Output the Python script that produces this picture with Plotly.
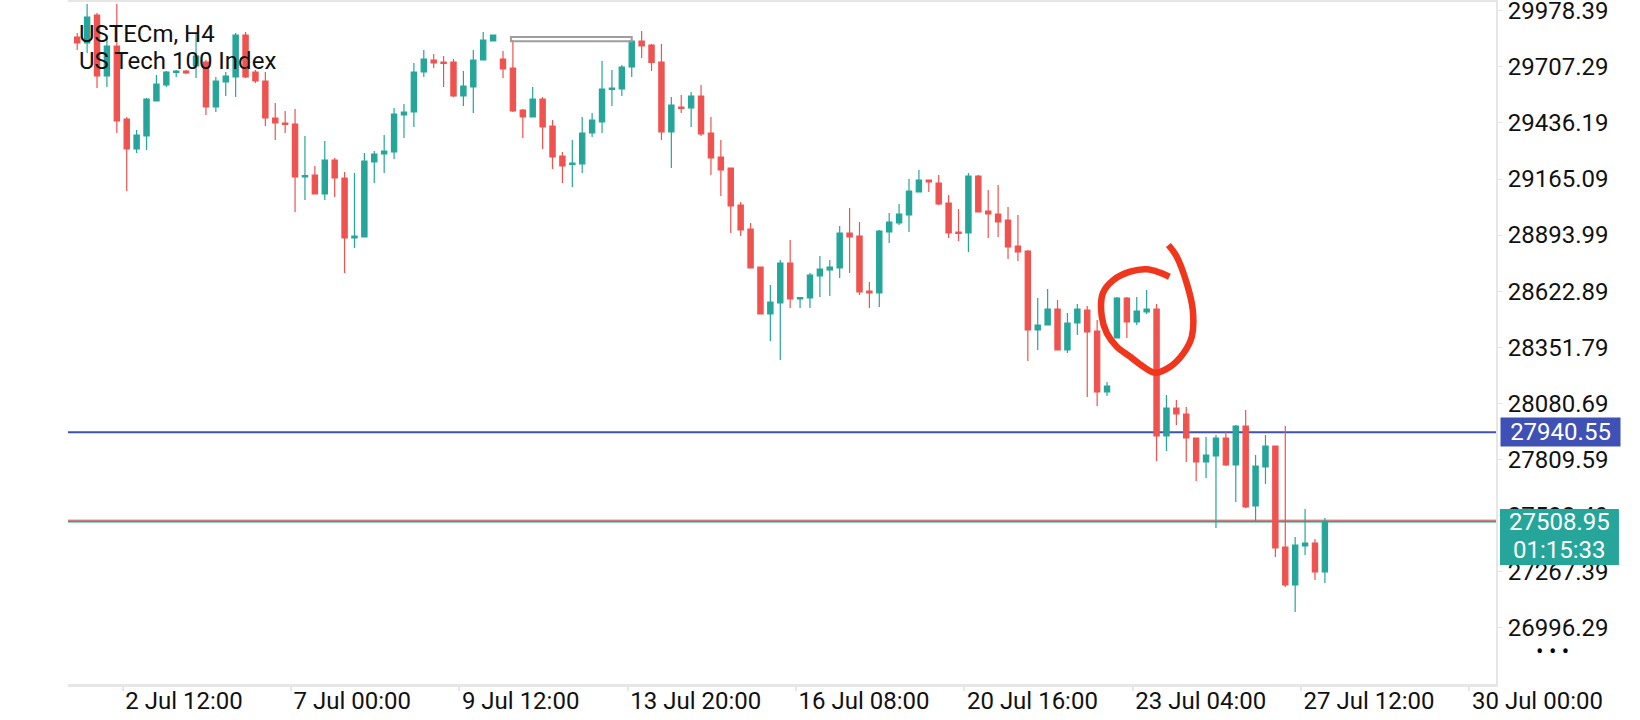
import plotly.graph_objects as go

# USTECm H4 candles, oldest first (x = bar number)
symbol = 'USTECm, H4'
description = 'US Tech 100 Index'

opens = [29852.1, 29823.1, 29958.5, 29663.5, 29808.6, 29455.5, 29310.4, 29373.3, 29542.6, 29620.0,
         29680.4, 29687.7, 29711.9, 29731.2, 29513.5, 29634.5, 29658.7, 29861.8, 29682.8, 29639.3,
         29460.3, 29436.2, 29431.3, 29175.0, 29184.6, 29092.7, 29257.2, 29170.1, 28879.9, 28884.7,
         29247.5, 29286.2, 29295.9, 29474.8, 29489.4, 29682.8, 29740.9, 29731.2, 29731.2, 29566.8,
         29610.3, 29740.9, 29832.8, 29745.7, 29702.2, 29499.0, 29465.2, 29552.2, 29421.6, 29276.5,
         29235.4, 29237.8, 29387.8, 29441.0, 29598.2, 29600.6, 29707.0, 29832.8, 29813.4, 29731.2,
         29392.6, 29513.5, 29508.7, 29566.8, 29387.8, 29271.7, 29218.5, 29039.5, 28923.4, 28739.6,
         28512.3, 28565.5, 28759.0, 28584.8, 28589.7, 28696.1, 28725.1, 28734.8, 28904.1, 28889.6,
         28623.5, 28613.9, 28908.9, 28952.5, 28991.1, 29102.4, 29160.4, 29145.9, 29049.2, 28908.9,
         28904.1, 29179.8, 29010.5, 28996.0, 28967.0, 28841.2, 28817.0, 28434.9, 28459.1, 28536.5,
         28338.2, 28468.8, 28531.6, 28430.1, 28135.0, 28396.2, 28589.7, 28473.6, 28522.0, 28536.5,
         27922.2, 28057.6, 28028.6, 27912.5, 27796.4, 27825.4, 27912.5, 27781.9, 27970.5, 27583.6,
         27772.2, 27873.8, 27385.3, 27201.5, 27390.1, 27404.6, 27264.3]

highs = [29871.5, 30011.8, 29968.2, 29852.1, 30011.8, 29465.2, 29402.3, 29557.1, 29668.3, 29687.7,
         29692.5, 29692.5, 29871.5, 29740.9, 29658.7, 29682.8, 29871.5, 29876.3, 29692.5, 29682.8,
         29532.9, 29494.2, 29503.9, 29373.3, 29228.2, 29349.1, 29266.9, 29199.1, 29194.3, 29291.0,
         29300.7, 29378.1, 29508.7, 29528.1, 29726.4, 29789.3, 29769.9, 29760.2, 29745.7, 29687.7,
         29789.3, 29876.3, 29861.8, 29784.4, 29837.6, 29503.9, 29610.3, 29561.9, 29450.7, 29295.9,
         29353.9, 29465.2, 29484.5, 29736.0, 29692.5, 29716.7, 29832.8, 29881.2, 29818.3, 29818.3,
         29561.9, 29571.6, 29586.1, 29620.0, 29465.2, 29353.9, 29218.5, 29054.0, 28952.5, 28739.6,
         28652.6, 28773.5, 28870.2, 28594.5, 28710.6, 28792.8, 28773.5, 28937.9, 29025.0, 28957.3,
         28667.1, 28918.6, 29000.8, 29044.4, 29165.3, 29208.8, 29160.4, 29184.6, 29087.9, 29020.2,
         29194.3, 29184.6, 29112.1, 29136.3, 29029.8, 28991.1, 28821.9, 28589.7, 28633.2, 28580.0,
         28517.1, 28560.7, 28551.0, 28483.3, 28183.4, 28594.5, 28594.5, 28594.5, 28628.4, 28560.7,
         28120.5, 28096.3, 28062.4, 27912.5, 27917.3, 27927.0, 27941.5, 27975.4, 28047.9, 27830.3,
         27927.0, 27873.8, 27970.5, 27433.6, 27569.1, 27424.0, 27525.5]

lows = [29789.3, 29774.7, 29605.4, 29610.3, 29387.8, 29107.2, 29291.0, 29305.6, 29542.6, 29610.3,
        29658.7, 29673.2, 29653.8, 29474.8, 29489.4, 29566.8, 29561.9, 29653.8, 29629.6, 29421.6,
        29353.9, 29387.8, 29005.7, 29063.7, 29092.7, 29063.7, 29078.2, 28710.6, 28831.5, 28884.7,
        29145.9, 29194.3, 29262.0, 29363.6, 29416.8, 29658.7, 29702.2, 29610.3, 29561.9, 29518.4,
        29484.5, 29740.9, 29832.8, 29653.8, 29489.4, 29363.6, 29465.2, 29310.4, 29213.6, 29145.9,
        29126.6, 29194.3, 29368.4, 29387.8, 29518.4, 29566.8, 29658.7, 29750.6, 29687.7, 29353.9,
        29218.5, 29484.5, 29416.8, 29373.3, 29184.6, 29083.1, 28904.1, 28889.6, 28734.8, 28512.3,
        28381.7, 28289.8, 28541.3, 28541.3, 28541.3, 28594.5, 28599.4, 28686.4, 28710.6, 28604.2,
        28541.3, 28546.1, 28855.7, 28942.8, 28908.9, 29102.4, 29102.4, 29039.5, 28879.9, 28865.4,
        28812.2, 29005.7, 28879.9, 28884.7, 28778.3, 28768.6, 28284.9, 28338.2, 28459.1, 28338.2,
        28323.6, 28410.7, 28110.8, 28067.3, 28115.6, 28396.2, 28396.2, 28459.1, 28512.3, 27801.2,
        27849.6, 27975.4, 27796.4, 27704.5, 27719.0, 27477.2, 27777.1, 27602.9, 27573.9, 27506.2,
        27690.0, 27336.9, 27191.8, 27070.9, 27346.6, 27225.6, 27211.1]

closes = [29823.1, 29948.9, 29663.5, 29808.6, 29445.8, 29310.4, 29378.1, 29552.2, 29624.8, 29682.8,
          29687.7, 29678.0, 29760.2, 29513.5, 29639.3, 29663.5, 29861.8, 29658.7, 29639.3, 29460.3,
          29436.2, 29428.9, 29175.0, 29182.2, 29092.7, 29257.2, 29170.1, 28879.9, 28889.6, 29252.3,
          29286.2, 29300.7, 29479.7, 29489.4, 29682.8, 29745.7, 29726.4, 29724.0, 29566.8, 29615.1,
          29740.9, 29837.6, 29861.8, 29697.3, 29494.2, 29465.2, 29552.2, 29416.8, 29271.7, 29228.2,
          29242.7, 29387.8, 29450.7, 29600.6, 29605.4, 29707.0, 29832.8, 29808.6, 29728.8, 29392.6,
          29523.2, 29506.3, 29566.8, 29382.9, 29266.9, 29208.8, 29034.7, 28918.6, 28734.8, 28512.3,
          28570.3, 28759.0, 28584.8, 28592.1, 28700.9, 28730.0, 28739.6, 28904.1, 28884.7, 28618.7,
          28613.9, 28913.8, 28957.3, 28996.0, 29107.2, 29160.4, 29150.8, 29044.4, 28904.1, 28901.7,
          29179.8, 29005.7, 28996.0, 28957.3, 28836.4, 28812.2, 28434.9, 28459.1, 28536.5, 28338.2,
          28468.8, 28536.5, 28425.2, 28135.0, 28164.0, 28589.7, 28473.6, 28526.8, 28536.5, 27922.2,
          28057.6, 28028.6, 27912.5, 27796.4, 27830.3, 27912.5, 27781.9, 27970.5, 27578.7, 27777.1,
          27873.8, 27380.4, 27201.5, 27394.9, 27404.6, 27264.3, 27508.95]

bars = list(range(len(opens)))

price_ticks = [29978.39, 29707.29, 29436.19, 29165.09, 28893.99, 28622.89,
               28351.79, 28080.69, 27809.59, 27538.49, 27267.39, 26996.29]
time_tick_pos = [4.6, 21.6, 38.6, 55.6, 72.6, 89.6, 106.6, 123.6, 140.6]
time_tick_text = ['2 Jul 12:00', '7 Jul 00:00', '9 Jul 12:00', '13 Jul 20:00', '16 Jul 08:00',
                  '20 Jul 16:00', '23 Jul 04:00', '27 Jul 12:00', '30 Jul 00:00']

level = 27940.55       # user horizontal line
bid = 27508.95
ask = 27515.0
countdown = '01:15:33'

# hand drawn objects on the chart (bar number, price)
box_bars = [43.8, 56.0]
box_prices = [29831.3, 29852.1]
circle_bars = [110.2, 111.04, 112.05, 112.66, 112.56, 111.71, 110.37, 108.85, 107.67, 106.33,
               104.99, 103.98, 103.47, 103.57, 104.65, 106.33, 108.01, 109.36, 110.3]
circle_prices = [28846.0, 28789.5, 28660.8, 28531.6, 28402.5, 28322.2, 28257.4, 28228.4, 28257.4,
                 28305.7, 28354.1, 28418.9, 28499.2, 28612.4, 28676.8, 28716.9, 28728.5, 28712.1,
                 28692.7]

GREEN = '#26a69a'
RED = '#ef5350'
BLUE = '#3f51b5'
AXIS = '#e6e6e6'
FONT = 'Roboto'

fig = go.Figure()
fig.add_trace(go.Candlestick(
    x=bars, open=opens, high=highs, low=lows, close=closes,
    increasing=dict(line=dict(color=GREEN, width=1.2), fillcolor=GREEN),
    decreasing=dict(line=dict(color=RED, width=1.2), fillcolor=RED),
    whiskerwidth=0, showlegend=False))

fig.add_trace(go.Scatter(x=circle_bars, y=circle_prices, mode='lines',
                         line=dict(color='#f0361c', width=6.5, shape='spline'),
                         hoverinfo='skip', showlegend=False))

# price lines
fig.add_shape(type='line', xref='x domain', x0=0, x1=1, yref='y', y0=level, y1=level,
              line=dict(color=BLUE, width=2), layer='below')
fig.add_shape(type='line', xref='x domain', x0=0, x1=1, yref='y', y0=bid, y1=bid,
              line=dict(color=GREEN, width=2), layer='below')
fig.add_shape(type='line', xref='x domain', x0=0, x1=1, yref='y', y0=ask, y1=ask,
              line=dict(color=RED, width=1), layer='below')

fig.add_shape(type='rect', x0=box_bars[0], x1=box_bars[1], y0=box_prices[0], y1=box_prices[1],
              line=dict(color='#9e9e9e', width=2), fillcolor='rgba(0,0,0,0)')

# price labels on the right scale
fig.add_shape(type='rect', xref='paper', yref='paper', x0=1.0028, x1=1.0861, y0=0.1745, y1=0.2566,
              line=dict(width=0), fillcolor=GREEN)
fig.add_annotation(xref='paper', x=1.0028, xanchor='left', yref='y', y=level, yanchor='middle',
                   text=f'{level:.2f}', showarrow=False, bgcolor=BLUE, width=119, height=28,
                   borderpad=0, font=dict(family=FONT, size=24, color='white'))
fig.add_annotation(xref='paper', x=1.0445, xanchor='center', yref='paper', y=0.2373, yanchor='middle',
                   text=f'{bid:.2f}', showarrow=False,
                   font=dict(family=FONT, size=24, color='white'))
fig.add_annotation(xref='paper', x=1.0445, xanchor='center', yref='paper', y=0.1965, yanchor='middle',
                   text=countdown, showarrow=False,
                   font=dict(family=FONT, size=24, color='white'))
fig.add_annotation(xref='paper', x=1.0525, yref='paper', y=0.047, yanchor='middle',
                   text='• • •', showarrow=False,
                   font=dict(family=FONT, size=22, color='black'))

# symbol caption
fig.add_annotation(xref='paper', x=0.0061, xanchor='left', yref='paper', y=0.9524, yanchor='middle',
                   text=symbol, showarrow=False, font=dict(family=FONT, size=24, color='#111111'))
fig.add_annotation(xref='paper', x=0.0061, xanchor='left', yref='paper', y=0.9128, yanchor='middle',
                   text=description, showarrow=False, font=dict(family=FONT, size=24, color='#111111'))

fig.update_layout(
    width=1640, height=720,
    margin=dict(l=68, r=144, t=2, b=36, pad=0, autoexpand=False),
    paper_bgcolor='white', plot_bgcolor='white',
    boxgap=0.47, boxgroupgap=0,
    showlegend=False,
    xaxis=dict(range=[-0.93, 143.28], rangeslider=dict(visible=False), automargin=False,
               showgrid=False, zeroline=False,
               tickmode='array', tickvals=time_tick_pos, ticktext=time_tick_text,
               ticks='outside', ticklen=4, tickcolor=AXIS, tickwidth=2,
               ticklabelposition='outside right', ticklabeloverflow='allow',
               ticklabelstandoff=-7,
               showline=True, linecolor=AXIS, linewidth=3, mirror=True,
               tickfont=dict(family=FONT, size=24, color='#111111')),
    yaxis=dict(side='right', range=[26722.6, 30021.4], automargin=False,
               showgrid=False, zeroline=False,
               tickmode='array', tickvals=price_ticks,
               ticktext=[f'{v:.2f}' for v in price_ticks],
               ticks='outside', ticklen=5, tickcolor=AXIS, ticklabeloverflow='allow',
               showline=True, linecolor=AXIS, linewidth=2,
               tickfont=dict(family=FONT, size=24, color='#111111')),
)

# the page must not add its own 8px body margin around the figure
fig.write_html('out.html', config={'displayModeBar': False},
               post_script="document.body.style.margin = '0';")
